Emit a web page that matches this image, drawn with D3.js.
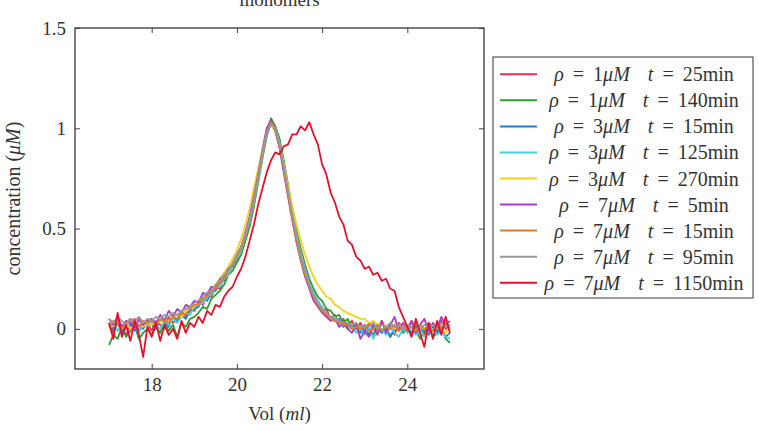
<html>
<head>
<script src="https://d3js.org/d3.v7.min.js"></script>
<style>
  body { margin: 0; background: #fff; }
  text { font-family: "Liberation Serif", "DejaVu Serif", serif; fill: #333; }
</style>
</head>
<body>
<svg width="759" height="431"></svg>
<script>
// elution volume (ml)
var vol = [17.0,17.1,17.2,17.3,17.4,17.5,17.6,17.7,17.8,17.9,
  18.0,18.1,18.2,18.3,18.4,18.5,18.6,18.7,18.8,18.9,
  19.0,19.1,19.2,19.3,19.4,19.5,19.6,19.7,19.8,19.9,
  20.0,20.1,20.2,20.3,20.4,20.5,20.6,20.7,20.8,20.9,
  21.0,21.1,21.2,21.3,21.4,21.5,21.6,21.7,21.8,21.9,
  22.0,22.1,22.2,22.3,22.4,22.5,22.6,22.7,22.8,22.9,
  23.0,23.1,23.2,23.3,23.4,23.5,23.6,23.7,23.8,23.9,
  24.0,24.1,24.2,24.3,24.4,24.5,24.6,24.7,24.8,24.9,25.0];

var rho = [1, 1, 3, 3, 3, 7, 7, 7, 7];
var tmin = [25, 140, 15, 125, 270, 5, 15, 95, 1150];
var colors = ["#e8304f", "#2ca02c", "#1f7fd6", "#45d0e6", "#f2d41e", "#a63cc8", "#e8792a", "#999999", "#e4102e"];

var c1_25 = [0.03,-0.02,0.04,0.00,-0.03,0.02,0.05,-0.01,0.01,0.03,
  -0.01,0.04,0.02,0.00,0.06,0.03,0.05,0.09,0.06,0.10,
  0.09,0.14,0.12,0.17,0.16,0.21,0.20,0.26,0.27,0.32,
  0.34,0.41,0.45,0.55,0.63,0.76,0.86,0.99,1.02,1.01,
  0.91,0.82,0.68,0.58,0.45,0.38,0.28,0.23,0.16,0.14,
  0.09,0.10,0.05,0.07,0.02,0.05,0.01,0.04,0.00,0.03,
  -0.02,0.03,0.01,-0.01,0.04,0.00,0.02,-0.03,0.03,0.01,
  -0.01,0.04,0.00,0.02,-0.03,0.03,0.01,-0.02,0.04,0.00,0.02];
var c1_140 = [-0.08,-0.03,-0.05,0.01,-0.04,-0.01,0.02,-0.05,-0.02,0.00,
  -0.03,0.01,-0.02,0.03,-0.01,0.02,-0.04,0.03,0.01,0.05,
  0.06,0.08,0.11,0.10,0.15,0.17,0.19,0.22,0.27,0.29,
  0.33,0.37,0.44,0.51,0.61,0.73,0.85,0.96,1.05,1.01,
  0.95,0.84,0.72,0.60,0.49,0.40,0.32,0.25,0.20,0.16,
  0.14,0.10,0.09,0.06,0.07,0.03,0.05,0.01,0.03,-0.01,
  0.02,0.00,-0.03,0.02,-0.01,0.01,-0.04,0.00,0.02,-0.02,
  0.01,-0.03,0.00,-0.05,-0.01,0.02,-0.04,-0.02,0.01,-0.05,-0.07];
var c3_15 = [0.02,0.00,0.03,-0.02,0.01,0.03,-0.01,0.02,0.00,0.04,
  0.02,0.00,0.05,0.03,0.01,0.06,0.04,0.07,0.05,0.09,
  0.10,0.11,0.15,0.14,0.18,0.19,0.23,0.24,0.29,0.31,
  0.36,0.40,0.47,0.54,0.65,0.75,0.88,0.97,1.02,0.99,
  0.91,0.80,0.68,0.56,0.45,0.36,0.28,0.21,0.17,0.12,
  0.10,0.07,0.06,0.04,0.05,0.01,0.03,0.00,0.02,-0.02,
  0.01,-0.03,0.02,0.00,-0.02,0.01,-0.04,0.00,0.02,-0.01,
  0.01,-0.02,0.02,-0.01,0.00,-0.03,0.01,-0.02,0.00,-0.04,-0.02];
var c3_125 = [0.01,0.03,-0.01,0.02,0.00,0.04,0.01,-0.02,0.03,0.01,
  0.03,0.02,0.00,0.04,0.02,0.05,0.03,0.06,0.08,0.07,
  0.11,0.12,0.13,0.16,0.17,0.21,0.21,0.25,0.27,0.32,
  0.35,0.39,0.46,0.53,0.63,0.74,0.86,0.98,1.03,1.00,
  0.93,0.82,0.70,0.58,0.47,0.38,0.30,0.23,0.18,0.14,
  0.11,0.08,0.05,0.06,0.02,0.03,0.00,0.01,-0.02,0.00,
  -0.03,0.01,-0.05,-0.01,0.00,-0.03,0.01,-0.02,-0.04,0.00,
  -0.02,0.01,-0.03,0.00,-0.04,-0.01,0.00,-0.03,-0.01,-0.04,-0.05];
var c3_270 = [0.00,0.02,0.04,0.01,0.03,0.00,0.02,0.04,0.01,0.03,
  0.02,0.04,0.03,0.05,0.03,0.06,0.07,0.06,0.09,0.10,
  0.11,0.14,0.15,0.18,0.20,0.22,0.25,0.28,0.31,0.35,
  0.39,0.45,0.52,0.60,0.70,0.80,0.90,0.99,1.02,0.98,
  0.92,0.82,0.71,0.61,0.52,0.44,0.37,0.31,0.26,0.22,
  0.19,0.16,0.15,0.12,0.11,0.09,0.08,0.07,0.06,0.05,
  0.05,0.03,0.04,0.02,0.03,0.01,0.02,0.00,0.02,0.01,
  0.00,0.02,-0.01,0.01,0.00,0.02,-0.01,0.01,0.00,-0.02,0.01];
var c7_5 = [0.05,0.02,0.06,0.01,0.04,0.03,0.00,0.05,0.02,0.04,
  0.05,0.03,0.07,0.04,0.09,0.06,0.10,0.08,0.12,0.11,
  0.14,0.13,0.18,0.17,0.21,0.20,0.25,0.26,0.30,0.32,
  0.37,0.41,0.48,0.56,0.66,0.77,0.89,1.00,1.04,0.99,
  0.90,0.78,0.66,0.54,0.43,0.34,0.26,0.20,0.14,0.11,
  0.08,0.06,0.04,0.05,0.01,0.03,0.00,-0.02,0.02,-0.05,
  -0.01,-0.04,0.01,-0.03,0.04,-0.02,0.02,0.06,-0.01,0.03,
  0.00,0.04,-0.02,0.02,0.05,-0.01,0.03,0.00,0.06,0.02,0.04];
var c7_15 = [0.01,0.04,0.02,0.00,0.03,0.05,0.02,0.01,0.04,0.03,
  0.04,0.02,0.05,0.04,0.03,0.06,0.05,0.08,0.07,0.10,
  0.12,0.12,0.15,0.16,0.19,0.20,0.23,0.25,0.29,0.32,
  0.36,0.40,0.46,0.54,0.64,0.75,0.87,0.98,1.03,1.00,
  0.91,0.80,0.67,0.55,0.44,0.35,0.27,0.21,0.16,0.12,
  0.09,0.07,0.05,0.04,0.03,0.02,0.02,0.00,0.01,0.00,
  0.01,-0.01,0.00,0.02,-0.01,0.01,0.00,0.02,-0.01,0.01,
  0.00,0.01,-0.01,0.02,0.00,0.01,-0.01,0.01,0.00,0.02,0.00];
var c7_95 = [0.05,0.03,0.06,0.04,0.02,0.05,0.04,0.06,0.03,0.05,
  0.04,0.06,0.05,0.07,0.06,0.08,0.07,0.09,0.10,0.11,
  0.13,0.14,0.16,0.18,0.19,0.22,0.24,0.27,0.29,0.33,
  0.37,0.41,0.47,0.55,0.64,0.76,0.88,0.98,1.02,1.00,
  0.92,0.81,0.69,0.57,0.46,0.37,0.29,0.22,0.17,0.13,
  0.10,0.08,0.06,0.05,0.04,0.03,0.03,0.02,0.03,0.01,
  0.02,0.01,0.03,0.00,0.02,0.01,0.03,0.01,0.02,0.00,
  0.02,0.01,0.03,0.00,0.02,0.01,0.02,0.00,0.03,0.01,0.02];
var c7_1150 = [0.03,-0.05,0.08,-0.04,0.02,-0.06,0.04,-0.03,-0.14,0.01,
  -0.04,0.03,-0.06,0.02,-0.03,0.00,-0.05,0.04,-0.02,0.03,
  0.01,0.06,0.03,0.09,0.07,0.12,0.11,0.16,0.19,0.21,
  0.26,0.30,0.36,0.44,0.52,0.62,0.70,0.78,0.84,0.88,
  0.87,0.91,0.92,0.97,0.97,1.01,0.99,1.03,0.97,0.92,
  0.82,0.77,0.68,0.63,0.56,0.52,0.44,0.42,0.36,0.34,
  0.30,0.31,0.27,0.28,0.24,0.25,0.20,0.19,0.11,0.06,
  0.01,-0.04,0.05,-0.02,-0.09,0.03,-0.05,0.04,-0.03,0.06,-0.02];

var series = [c1_25, c1_140, c3_15, c3_125, c3_270, c7_5, c7_15, c7_95, c7_1150];

var xTicks = [18, 20, 22, 24];
var yTicks = [0, 0.5, 1, 1.5];

var svg = d3.select("svg");
var pL = 75, pR = 484, pT = 28, pB = 369;

var x = d3.scaleLinear().domain([16.2, 25.8]).range([pL, pR]);
var y = d3.scaleLinear().domain([-0.2, 1.5]).range([pB, pT]);

// curves
var line = d3.line()
  .x(function(d, i) { return x(vol[i]); })
  .y(function(d) { return y(d); });

svg.append("g")
  .selectAll("path")
  .data(series)
  .enter().append("path")
  .attr("d", line)
  .attr("fill", "none")
  .attr("stroke", function(d, i) { return colors[i]; })
  .attr("stroke-width", 1.8)
  .attr("stroke-linejoin", "round");

// axes, ticks pointing inwards on all four sides
function styleAxis(g) {
  g.select(".domain").remove();
  g.selectAll(".tick line").attr("stroke", "#444").attr("stroke-width", 1);
  g.selectAll(".tick text").attr("fill", "#333")
    .style("font-family", "Liberation Serif, serif").style("font-size", "19px");
}

svg.append("g")
  .attr("transform", "translate(0," + pB + ")")
  .call(d3.axisBottom(x).tickValues(xTicks).tickSizeInner(-5).tickSizeOuter(0).tickPadding(9))
  .call(styleAxis);
svg.append("g")
  .attr("transform", "translate(0," + pT + ")")
  .call(d3.axisTop(x).tickValues(xTicks).tickSizeInner(-5).tickSizeOuter(0).tickFormat(""))
  .call(styleAxis);
svg.append("g")
  .attr("transform", "translate(" + pL + ",0)")
  .call(d3.axisLeft(y).tickValues(yTicks).tickSizeInner(-5).tickSizeOuter(0).tickPadding(9)
    .tickFormat(function(d) { return d3.format("")(d); }))
  .call(styleAxis);
svg.append("g")
  .attr("transform", "translate(" + pR + ",0)")
  .call(d3.axisRight(y).tickValues(yTicks).tickSizeInner(-5).tickSizeOuter(0).tickFormat(""))
  .call(styleAxis);

svg.append("rect")
  .attr("x", pL).attr("y", pT)
  .attr("width", pR - pL).attr("height", pB - pT)
  .attr("fill", "none").attr("stroke", "#444").attr("stroke-width", 1.4);

// title and axis labels
svg.append("text")
  .attr("x", (pL + pR) / 2).attr("y", 6)
  .attr("text-anchor", "middle").attr("font-size", "19px")
  .text("monomers");

var xl = svg.append("text")
  .attr("x", (pL + pR) / 2).attr("y", 420)
  .attr("text-anchor", "middle").attr("font-size", "19px");
xl.append("tspan").text("Vol (");
xl.append("tspan").attr("font-style", "italic").text("ml");
xl.append("tspan").text(")");

var yl = svg.append("text")
  .attr("transform", "translate(20," + (pT + pB) / 2 + ") rotate(-90)")
  .attr("text-anchor", "middle").attr("font-size", "20px");
yl.append("tspan").text("concentration (");
yl.append("tspan").attr("font-style", "italic").text("μM");
yl.append("tspan").text(")");

// legend
var legend = svg.append("g");
legend.append("rect")
  .attr("x", 493).attr("y", 57).attr("width", 260).attr("height", 241)
  .attr("fill", "#fff").attr("stroke", "#555").attr("stroke-width", 1.2);

var rowY = d3.scaleLinear().domain([0, 8]).range([74.3, 282.7]);

var rows = legend.selectAll("g.row")
  .data(rho)
  .enter().append("g")
  .attr("class", "row")
  .attr("transform", function(d, i) { return "translate(0," + rowY(i) + ")"; });

rows.append("line")
  .attr("x1", 500).attr("x2", 537)
  .attr("stroke", function(d, i) { return colors[i]; })
  .attr("stroke-width", 2);

rows.each(function(d, i) {
  var t = d3.select(this).append("text")
    .attr("x", 644).attr("dy", "0.35em")
    .attr("text-anchor", "middle").attr("font-size", "20px")
    .style("white-space", "pre").style("word-spacing", "4px");
  t.append("tspan").attr("font-style", "italic").text("ρ");
  t.append("tspan").text(" = " + d);
  t.append("tspan").attr("font-style", "italic").text("μM  t");
  t.append("tspan").text(" = " + tmin[i] + "min");
});
</script>
</body>
</html>
